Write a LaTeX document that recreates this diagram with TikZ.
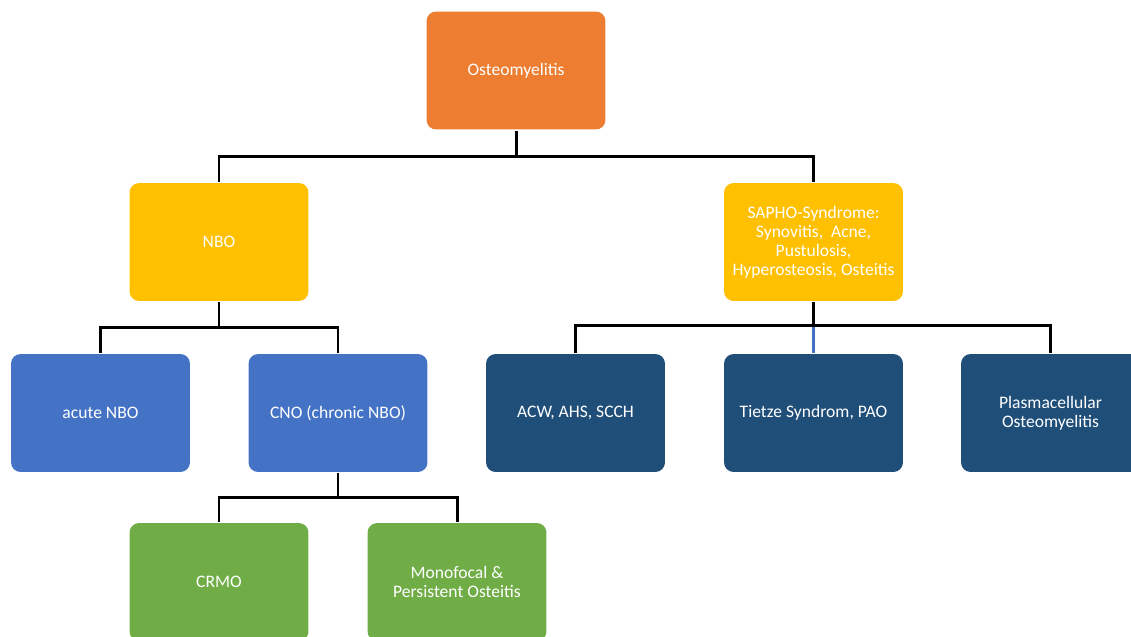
\documentclass[tikz,border=0pt]{standalone}
\usepackage{fontspec}
\setmainfont{Carlito}
\usetikzlibrary{positioning}
\definecolor{osteo}{HTML}{ED7D31}
\definecolor{gold}{HTML}{FFC000}
\definecolor{midblue}{HTML}{4472C4}
\definecolor{darkblue}{HTML}{1F4E79}
\definecolor{leafgreen}{HTML}{70AD47}

\begin{document}
\begin{tikzpicture}[x=0.02cm,y=-0.02cm,line width=1.7pt,
  box/.style={rectangle,rounded corners=5.5pt,text=white,
  font=\fontsize{10}{10.8}\selectfont,align=center,
  minimum width=3.58cm,minimum height=2.36cm,inner sep=2pt},
  top box/.style={box,fill=osteo},
  mid box/.style={box,fill=gold},
  nbo box/.style={box,fill=midblue},
  sapho box/.style={box,fill=darkblue},
  cno box/.style={box,fill=leafgreen}]
  \useasboundingbox (0,0) rectangle (1131,636);

  \node[top box] (Ost) at (516,70.5) {Osteomyelitis};
  \node[mid box] (NBO) at (219,242) {NBO};
  \node[mid box] (SAPHO) at (813.5,242) {SAPHO-Syndrome:\\ Synovitis,\ \ Acne,\\ Pustulosis,\\ Hyperosteosis, Osteitis};
  % third row
  \node[nbo box] (acute) at (100.5,413) {acute NBO};
  \node[nbo box] (CNO) at (338,413) {CNO (chronic NBO)};
  \node[sapho box] (ACW) at (575.5,413) {ACW, AHS, SCCH};
  \node[sapho box] (Tietze) at (813.5,413) {Tietze Syndrom, PAO};
  \node[sapho box] (Plasma) at (1050.5,413) {Plasmacellular\\ Osteomyelitis};
  % last row
  \node[cno box] (CRMO) at (219,582) {CRMO};
  \node[cno box] (Mono) at (457,582) {Monofocal \&\\ Persistent Osteitis};

  % connectors
  \draw (Ost.south) -- ++(0,26) coordinate (j1);
  \draw (j1) -| (NBO.north);
  \draw (j1) -| (SAPHO.north);
  \draw (NBO.south) -- ++(0,25) coordinate (j2);
  \draw (j2) -| (acute.north);
  \draw (j2) -| (CNO.north);
  \draw (SAPHO.south) -- ++(0,23) coordinate (j3);
  \draw (j3) -| (ACW.north);
  \draw (j3) -| (Plasma.north);
  \draw[midblue,line width=1.5pt] ([yshift=-0.8pt]j3) -- (Tietze.north);
  \draw (CNO.south) -- ++(0,24) coordinate (j4);
  \draw (j4) -| (CRMO.north);
  \draw (j4) -| (Mono.north);
\end{tikzpicture}
\end{document}
